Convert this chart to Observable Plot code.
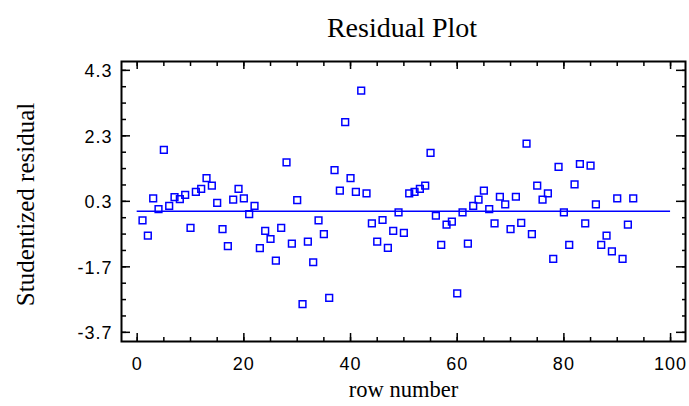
<!DOCTYPE html>
<html>
<head>
<meta charset="utf-8">
<script src="https://cdn.jsdelivr.net/npm/d3@7"></script>
<script src="https://cdn.jsdelivr.net/npm/@observablehq/plot@0.6"></script>
<style>
  html, body { margin: 0; padding: 0; background: white; }
  #chart { width: 689px; height: 406px; }
  .resplot g[aria-label="y-axis tick label"] text,
  .resplot g[aria-label="x-axis tick label"] text { letter-spacing: 1px; }
</style>
</head>
<body>
<div id="chart"></div>
<script>
// ---- data ----
const rowNumbers = [
  1, 2, 3, 4, 5, 6, 7, 8, 9, 10,
  11, 12, 13, 14, 15, 16, 17, 18, 19, 20,
  21, 22, 23, 24, 25, 26, 27, 28, 29, 30,
  31, 32, 33, 34, 35, 36, 37, 38, 39, 40,
  41, 42, 43, 44, 45, 46, 47, 48, 49, 50,
  51, 52, 53, 54, 55, 56, 57, 58, 59, 60,
  61, 62, 63, 64, 65, 66, 67, 68, 69, 70,
  71, 72, 73, 74, 75, 76, 77, 78, 79, 80,
  81, 82, 83, 84, 85, 86, 87, 88, 89, 90,
  91, 92, 93
];
const residuals = [
  -0.28, -0.75, 0.39, 0.06, 1.87, 0.16, 0.43, 0.37, 0.50, -0.51,
  0.59, 0.68, 1.01, 0.78, 0.25, -0.55, -1.07, 0.35, 0.68, 0.39,
  -0.09, 0.16, -1.13, -0.60, -0.85, -1.51, -0.51, 1.49, -0.99, 0.34,
  -2.84, -0.93, -1.56, -0.28, -0.70, -2.65, 1.25, 0.63, 2.72, 1.01,
  0.59, 3.68, 0.54, -0.37, -0.93, -0.27, -1.12, -0.60, -0.04, -0.66,
  0.54, 0.59, 0.68, 0.78, 1.78, -0.14, -1.03, -0.41, -0.32, -2.51,
  -0.04, -0.99, 0.16, 0.35, 0.63, 0.06, -0.37, 0.44, 0.21, -0.55,
  0.44, -0.36, 2.06, -0.70, 0.78, 0.35, 0.54, -1.46, 1.35, -0.04,
  -1.03, 0.82, 1.44, -0.37, 1.39, 0.21, -1.03, -0.75, -1.23, 0.39,
  -1.46, -0.41, 0.39
];
const xTicks = [0, 20, 40, 60, 80, 100];
const xMinorTicks = [0, 5, 10, 15, 20, 25, 30, 35, 40, 45, 50, 55, 60, 65, 70, 75, 80, 85, 90, 95, 100];
const yTicks = [-3.7, -1.7, 0.3, 2.3, 4.3];
const yMinorTicks = [-3.7, -3.2, -2.7, -2.2, -1.7, -1.2, -0.7, -0.2, 0.3, 0.8, 1.3, 1.8, 2.3, 2.8, 3.3, 3.8, 4.3];
const zeroLine = [0];
const zeroLineSpan = [0, 100];
const xDomain = [-2.94, 102.8];
const yDomain = [-3.98, 4.57];
const titleText = "Residual Plot";
const xLabel = "row number";
const yLabel = "Studentized residual";

const points = rowNumbers.map((r, i) => ({row: r, resid: residuals[i]}));
const serif = "'Liberation Serif', 'Times New Roman', serif";
const blue = "#0000ff";

const chart = Plot.plot({
  width: 689,
  height: 406,
  marginLeft: 121,
  marginRight: 4,
  marginTop: 61,
  marginBottom: 65,
  className: "resplot",
  style: {fontFamily: "'Liberation Sans', Arial, sans-serif", fontSize: "18px", background: "white", color: "black"},
  x: {domain: xDomain, label: null},
  y: {domain: yDomain, label: null},
  marks: [
    // tick labels
    Plot.axisX(xTicks, {anchor: "bottom", tickSize: 0, tickPadding: 16, tickFormat: d => String(d), fontSize: 18}),
    Plot.axisY(yTicks, {anchor: "left", tickSize: 0, tickPadding: 9, tickFormat: d => d.toFixed(1), fontSize: 18, dy: 1}),
    // inward ticks
    Plot.axisX(xMinorTicks, {anchor: "bottom", tickSize: -4, tickFormat: () => "", strokeWidth: 1.5}),
    Plot.axisX(xTicks, {anchor: "bottom", tickSize: -8, tickFormat: () => "", strokeWidth: 1.5}),
    Plot.axisX(xMinorTicks, {anchor: "top", tickSize: -4, tickFormat: () => "", strokeWidth: 1.5}),
    Plot.axisX(xTicks, {anchor: "top", tickSize: -7, tickFormat: () => "", strokeWidth: 1.5}),
    Plot.axisY(yMinorTicks, {anchor: "left", tickSize: -5, tickFormat: () => "", strokeWidth: 1.5}),
    Plot.axisY(yTicks, {anchor: "left", tickSize: -9, tickFormat: () => "", strokeWidth: 1.5}),
    Plot.axisY(yMinorTicks, {anchor: "right", tickSize: -4, tickFormat: () => "", strokeWidth: 1.5}),
    Plot.axisY(yTicks, {anchor: "right", tickSize: -10, tickFormat: () => "", strokeWidth: 1.5}),
    Plot.frame({stroke: "black", strokeWidth: 2}),
    Plot.ruleY(zeroLine, {x1: zeroLineSpan[0], x2: zeroLineSpan[1], stroke: blue, strokeWidth: 1.5}),
    Plot.dot(points, {x: "row", y: "resid", symbol: "square", r: 3.8, stroke: blue, fill: "none", strokeWidth: 1.5}),
    // titles
    Plot.text([titleText], {frameAnchor: "top", dy: -44.5, dx: -1.5, fontSize: 28, fontFamily: serif, fill: "black"}),
    Plot.text([xLabel], {frameAnchor: "bottom", dy: 55, fontSize: 22.5, fontFamily: serif, fill: "black"}),
    Plot.text([yLabel], {frameAnchor: "left", textAnchor: "middle", rotate: -90, dx: -95.7, dy: 3, fontSize: 25, fontFamily: serif, fill: "black"})
  ]
});
document.getElementById("chart").appendChild(chart);
</script>
</body>
</html>
